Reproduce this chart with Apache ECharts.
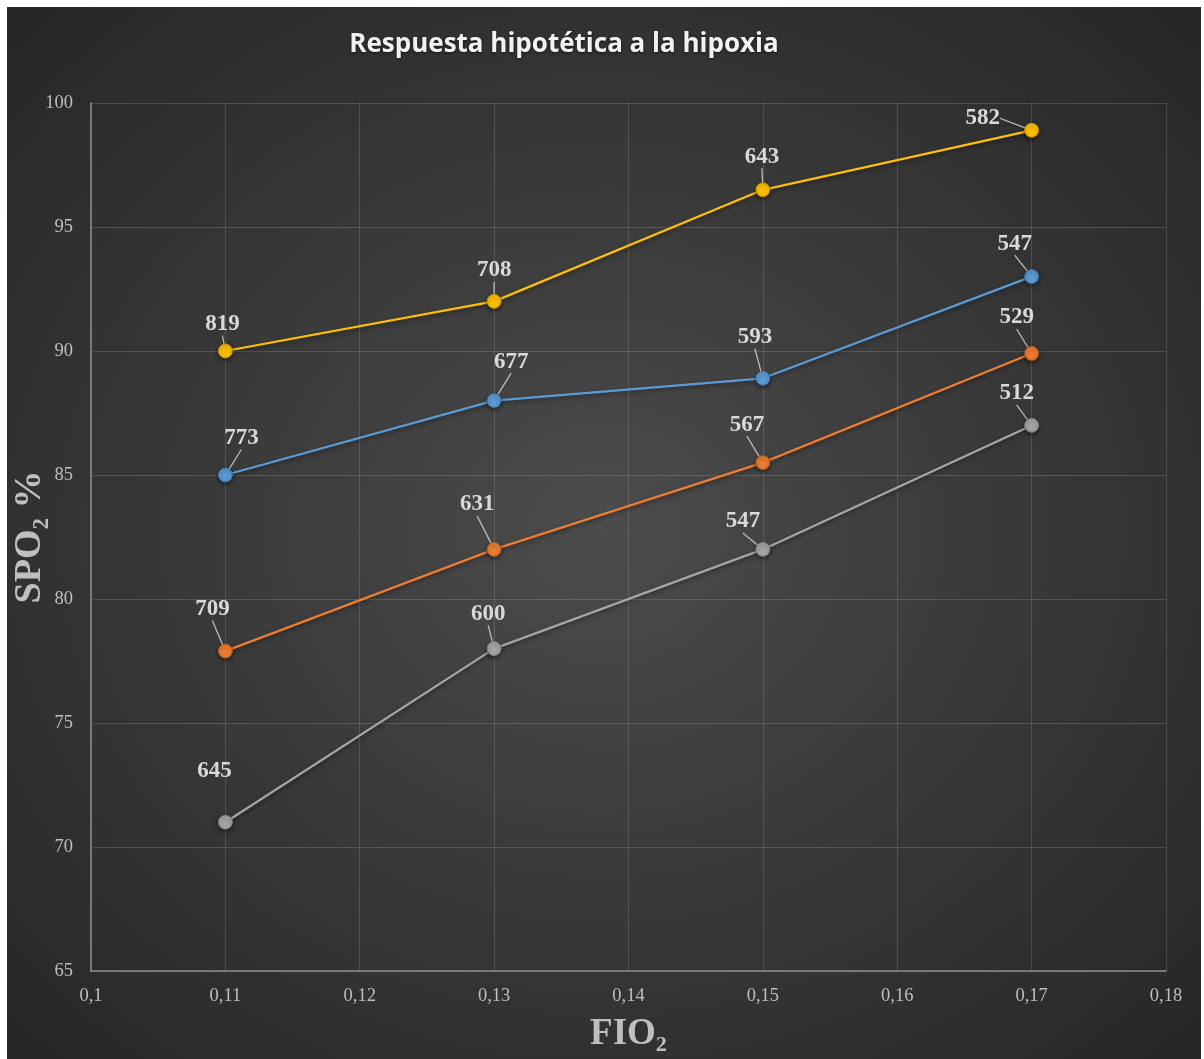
<!DOCTYPE html>
<html>
<head>
<meta charset="utf-8">
<title>Respuesta hipotética a la hipoxia</title>
<script src="https://cdn.jsdelivr.net/npm/echarts@6/dist/echarts.min.js"></script>
<style>
  html, body { margin: 0; padding: 0; background: #ffffff; }
  #chart {
    position: absolute; left: 7px; top: 7px; width: 1194px; height: 1052px;
    background: radial-gradient(ellipse at 50% 50%, #4c4c4c 0%, #3c3c3c 40%, #262626 100%);
  }
</style>
</head>
<body>
<div id="chart"></div>
<script>
// FIO2 values on the horizontal axis
const fio2 = [0.11, 0.13, 0.15, 0.17];

// SpO2 (%) per series
const spoBlue   = [85, 88, 88.9, 93];
const spoOrange = [77.9, 82, 85.5, 89.9];
const spoGray   = [71, 78, 82, 87];
const spoGold   = [90, 92, 96.5, 98.9];

// values written next to each point
const lblBlue   = [773, 677, 593, 547];
const lblOrange = [709, 631, 567, 529];
const lblGray   = [645, 600, 547, 512];
const lblGold   = [819, 708, 643, 582];

const seriesNames = ['Serie 1', 'Serie 2', 'Serie 3', 'Serie 4'];

// label placement relative to each point (pixels), one row per series
const labelShift = [
  [[16, -37], [17, -39], [-8, -41], [-17, -33]],
  [[-13, -42], [-17, -45], [-16, -38], [-15, -36]],
  [[-11, -51], [-6, -35], [-20, -28], [-15, -32]],
  [[-3, -27], [0, -31], [-1, -33], [-49, -12]]
];
const noLeader = [[], [], [0], []];

const palette = ['#5B9BD5', '#ED7D31', '#A5A5A5', '#FFC000'];
const borders = ['#41719C', '#AE5A21', '#7C7C7C', '#BC8C00'];

const serif = '"Liberation Serif", "Times New Roman", serif';

function makeSeries(idx, ys, labels) {
  return {
    name: seriesNames[idx],
    type: 'line',
    data: fio2.map((x, i) => ({
      value: [x, ys[i]],
      label: { formatter: String(labels[i]) },
      labelLine: { show: noLeader[idx].indexOf(i) < 0 }
    })),
    symbol: 'circle',
    symbolSize: 14,
    lineStyle: {
      color: palette[idx], width: 2.25,
      shadowBlur: 4, shadowColor: 'rgba(0,0,0,0.45)', shadowOffsetY: 2
    },
    itemStyle: {
      color: palette[idx], borderColor: borders[idx], borderWidth: 1,
      shadowBlur: 4, shadowColor: 'rgba(0,0,0,0.5)', shadowOffsetY: 2
    },
    label: {
      show: true,
      position: 'inside',
      fontFamily: serif,
      fontWeight: 'bold',
      fontSize: 23,
      color: '#d9d9d9'
    },
    labelLayout: function (p) {
      const s = labelShift[p.seriesIndex][p.dataIndex];
      return { dx: s[0], dy: s[1] };
    },
    labelLine: {
      show: true,
      lineStyle: { color: '#bfbfbf', width: 1.25 }
    },
    emphasis: { disabled: true },
    z: 2 + idx
  };
}

const chart = echarts.init(document.getElementById('chart'), null, { renderer: 'canvas' });

chart.setOption({
  animation: false,
  backgroundColor: 'transparent',
  title: {
    text: 'Respuesta hipotética a la hipoxia',
    left: 552,
    textAlign: 'center',
    top: 20,
    textStyle: {
      fontFamily: '"Open Sans", "Noto Sans", sans-serif',
      fontWeight: 'bold',
      fontSize: 26,
      color: '#f2f2f2',
      textShadowColor: 'rgba(0,0,0,0.6)',
      textShadowBlur: 3,
      textShadowOffsetY: 1
    }
  },
  grid: { left: 84, right: 35, top: 96, bottom: 88, outerBoundsMode: 'none', containLabel: false },
  xAxis: {
    type: 'value',
    min: 0.1, max: 0.18, interval: 0.01,
    name: 'FIO₂',
    nameLocation: 'middle',
    nameGap: 45,
    nameMoveOverlap: false,
    nameTextStyle: { fontFamily: serif, fontWeight: 'bold', fontSize: 37, color: '#bfbfbf' },
    axisLine: { show: true, lineStyle: { color: '#8c8c8c', width: 1.5 } },
    axisTick: { show: false },
    axisLabel: {
      margin: 16,
      fontFamily: serif, fontSize: 18.5, color: '#bfbfbf',
      formatter: v => String(+v.toFixed(2)).replace('.', ',')
    },
    splitLine: { show: true, lineStyle: { color: 'rgba(255,255,255,0.14)', width: 1 } }
  },
  yAxis: {
    type: 'value',
    min: 65, max: 100, interval: 5,
    name: 'SPO₂ %',
    nameLocation: 'middle',
    nameGap: 42,
    nameMoveOverlap: false,
    nameTextStyle: { fontFamily: serif, fontWeight: 'bold', fontSize: 38, color: '#bfbfbf' },
    axisLine: { show: true, lineStyle: { color: '#8c8c8c', width: 1.5 } },
    axisTick: { show: false },
    axisLabel: { margin: 18, fontFamily: serif, fontSize: 18.5, color: '#bfbfbf' },
    splitLine: { show: true, lineStyle: { color: 'rgba(255,255,255,0.14)', width: 1 } }
  },
  series: [
    makeSeries(0, spoBlue, lblBlue),
    makeSeries(1, spoOrange, lblOrange),
    makeSeries(2, spoGray, lblGray),
    makeSeries(3, spoGold, lblGold)
  ]
});
</script>
</body>
</html>
